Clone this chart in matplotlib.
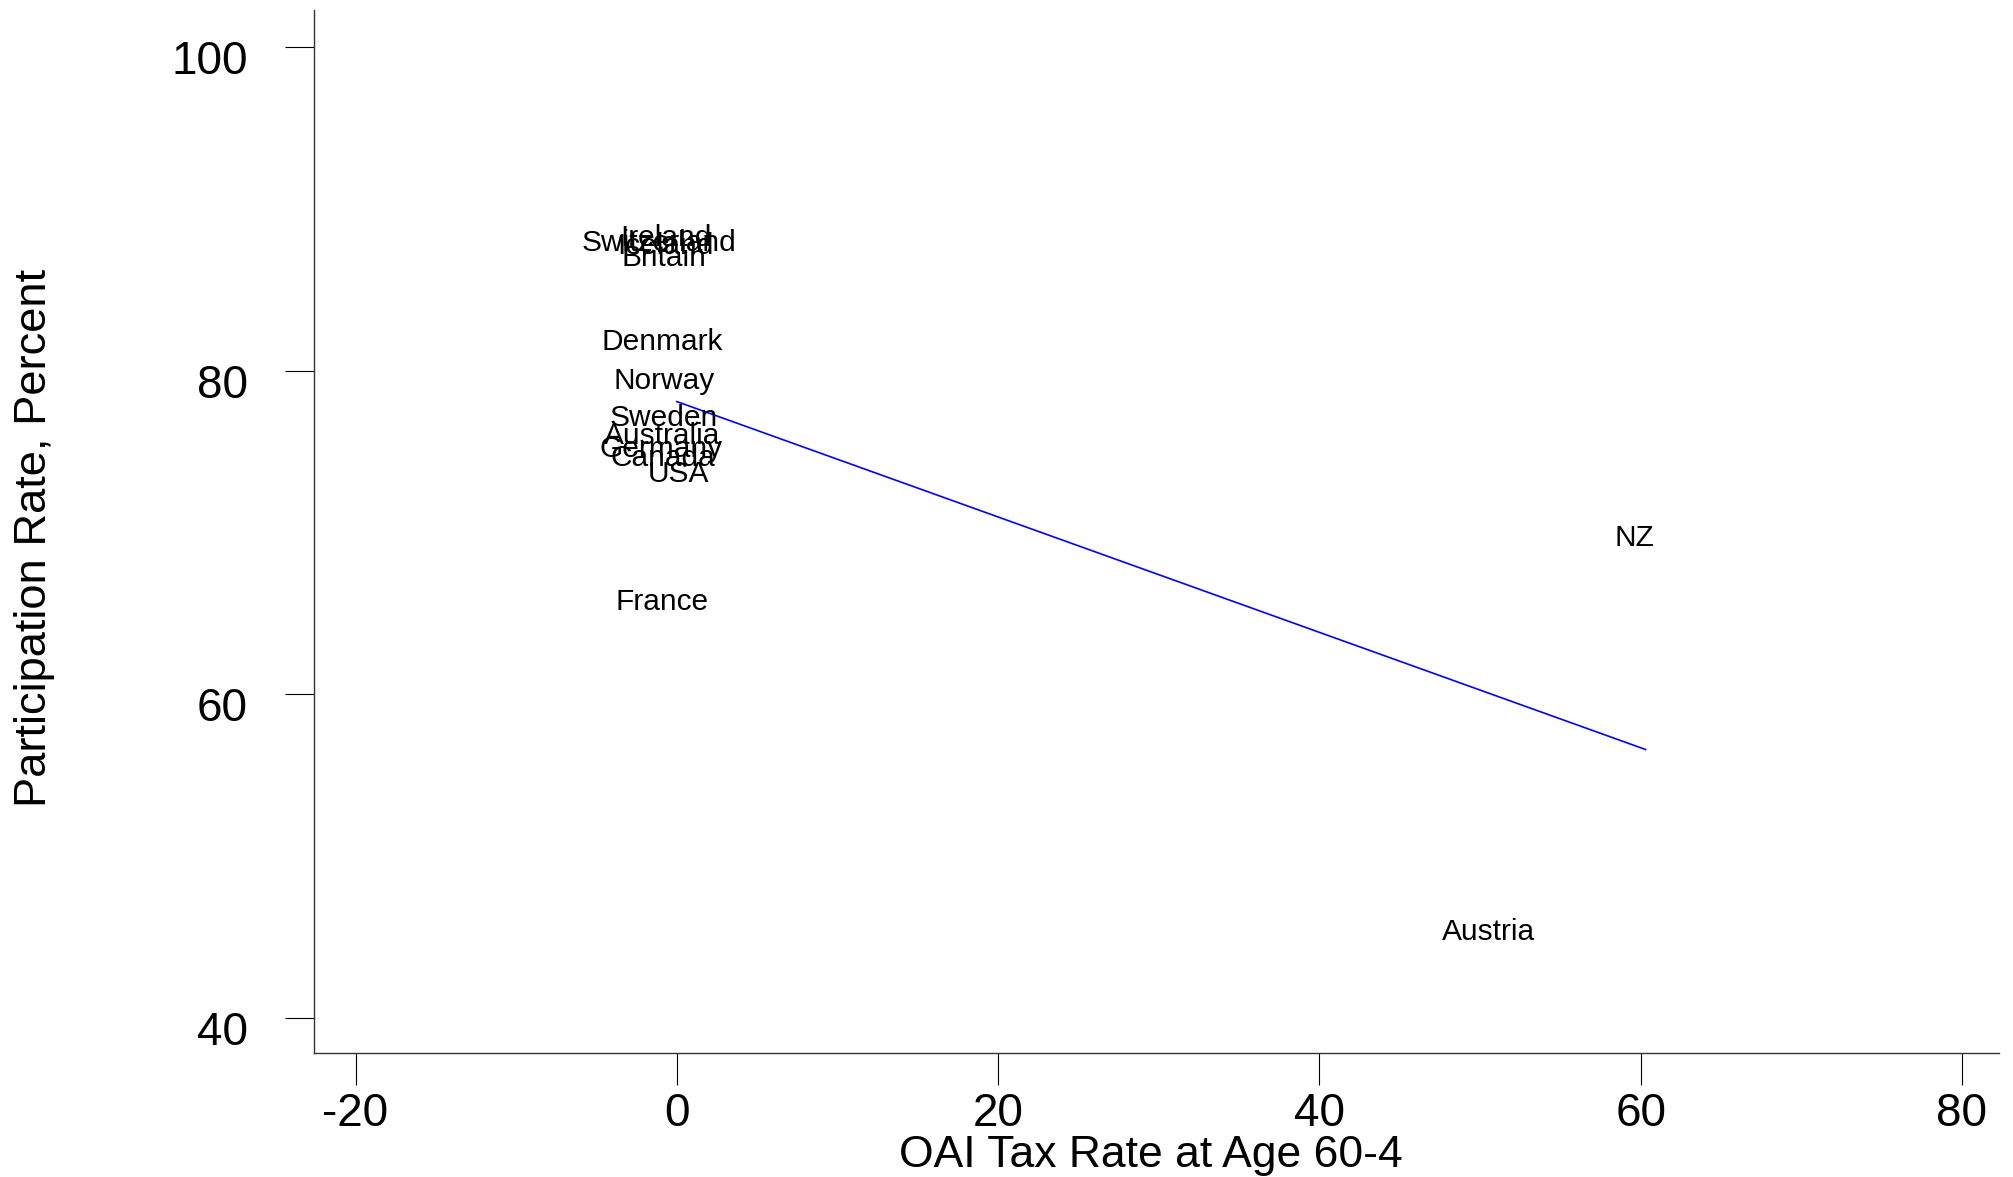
import numpy as np
import matplotlib
matplotlib.use("Agg")
import matplotlib.pyplot as plt
import matplotlib.transforms as mtransforms

# countries and their (tax rate, participation rate)
countries = ["Switzerland", "Ireland", "Iceland", "Britain", "Denmark", "Norway",
             "Sweden", "Australia", "Germany", "Canada", "USA", "France",
             "NZ", "Austria"]
tax_rate = [-1.1, -0.7, -0.7, -0.8, -0.9, -0.8, -0.8, -0.9, -1.0, -0.9, 0.1, -0.9,
            59.6, 50.5]
participation = [87.9, 88.2, 87.7, 87.0, 81.8, 79.4, 77.1, 76.0, 75.2, 74.6,
                 73.6, 65.7, 69.7, 45.3]

# fitted line end points
fit_x = [0.0, 60.3]
fit_y = [78.1, 56.6]

xticks = [-20, 0, 20, 40, 60, 80]
yticks = [40, 60, 80, 100]

plt.rcParams['font.family'] = ['Liberation Sans', 'DejaVu Sans']

fig = plt.figure(figsize=(20.13, 11.77), dpi=100)
ax = fig.add_axes([0.1562, 0.1056, 0.993 - 0.1562, 0.9915 - 0.1056])

for name, x, y in zip(countries, tax_rate, participation):
    ax.text(x, y, name, ha="center", va="center", fontsize=21.5, color="black")

ax.plot(fit_x, fit_y, color="#0000ff", linewidth=1.2)

ax.set_xlim(-22.56, 82.3)
ax.set_ylim(37.86, 102.3)
ax.set_xticks(xticks)
ax.set_yticks(yticks)
ax.set_xticklabels([str(v) for v in xticks])
ax.set_yticklabels([str(v) for v in yticks])

for side in ["top", "right"]:
    ax.spines[side].set_visible(False)
for side in ["left", "bottom"]:
    ax.spines[side].set_linewidth(1.0)
    ax.spines[side].set_color("#333333")

ax.tick_params(axis="y", direction="out", length=21, width=0.8, pad=27, labelsize=33)
ax.tick_params(axis="x", direction="out", length=23, width=0.8, pad=5, labelsize=33)

# y tick labels sit a little below their ticks in the original
shift = mtransforms.ScaledTranslation(0, -10 / 100, fig.dpi_scale_trans)
for lab in ax.get_yticklabels():
    lab.set_transform(lab.get_transform() + shift)

fig.text(35 / 2013, 1 - 538 / 1177, "Participation Rate, Percent", rotation=90,
         ha="center", va="center", fontsize=32.6)
fig.text(0.5718, 1 - 1156 / 1177, "OAI Tax Rate at Age 60-4",
         ha="center", va="center", fontsize=32)

fig.savefig("out.png", dpi=100)
